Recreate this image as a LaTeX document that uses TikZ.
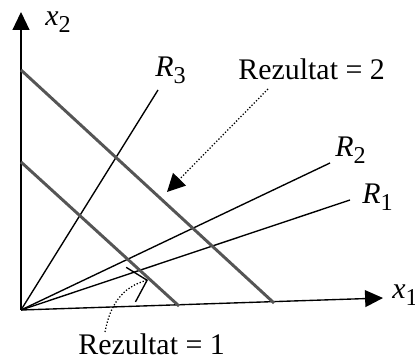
\documentclass[tikz,border=0pt]{standalone}
\usepackage{fontspec}
\setmainfont{Liberation Serif}
\usetikzlibrary{arrows.meta}
\definecolor{LineGray}{HTML}{555555}
\newcommand{\ital}[2]{\textit{#1}\raisebox{-.45ex}{\fontsize{11.5}{13}\selectfont#2}}

\begin{document}
\begin{tikzpicture}[x=0.475pt, y=-0.475pt,
    lbl/.style={inner sep=0pt, anchor=base west, font=\fontsize{14.2}{16}\selectfont},
    axis/.style={line width=0.65pt, -{Triangle[length=8.5pt, width=8pt]}},
    ray/.style={line width=0.65pt},
    level/.style={line width=1.4pt, draw=LineGray},
    hint/.style={line width=0.6pt, dash pattern=on 0.6pt off 0.9pt}]
  \useasboundingbox (0,0) rectangle (415,363);

  % axes
  \coordinate (O) at (21,310);
  \coordinate (X) at (383,298);
  \coordinate (Y) at (21,12);
  \draw[axis] (O) -- (X);
  \draw[axis] (O) -- (Y);
  \node[lbl] (x1) at (392,299) {\ital{x}{1}};
  \node[lbl] (x2) at (45,26) {\ital{x}{2}};

  % rays R1..R3
  \foreach \k/\ex/\ey/\lx/\ly in {1/350/200/362/204, 2/330/163/335/157, 3/158/90/155/77} {
    \coordinate (r\k) at (\ex,\ey);
    \draw[ray] (O) -- (r\k);
    \node[lbl] (R\k) at (\lx,\ly) {\ital{R}{\k}};
  }

  % level lines
  \coordinate (a1) at (21,162);
  \coordinate (b1) at (179,306);
  \coordinate (a2) at (21,70);
  \coordinate (b2) at (274,303);
  \draw[level] (a1) -- (b1);
  \draw[level] (a2) -- (b2);

  % labels with pointers
  \node[lbl] (rez2) at (238,80) {Rezultat = 2};
  \node[lbl] (rez1) at (78,355) {Rezultat = 1};
  \coordinate (s2) at (268,89);
  \coordinate (t2) at (167,192);
  \coordinate (s1) at (105,332);
  \coordinate (t1) at (148,280);
  \draw[hint, -{Triangle[length=8.5pt, width=8.5pt]}] (s2) -- (t2);
  \draw[hint, -{Straight Barb[length=8pt, width=17pt, line width=0.65pt]}]
    (s1) .. controls (110,305) and (122,287) .. (t1);
\end{tikzpicture}
\end{document}
